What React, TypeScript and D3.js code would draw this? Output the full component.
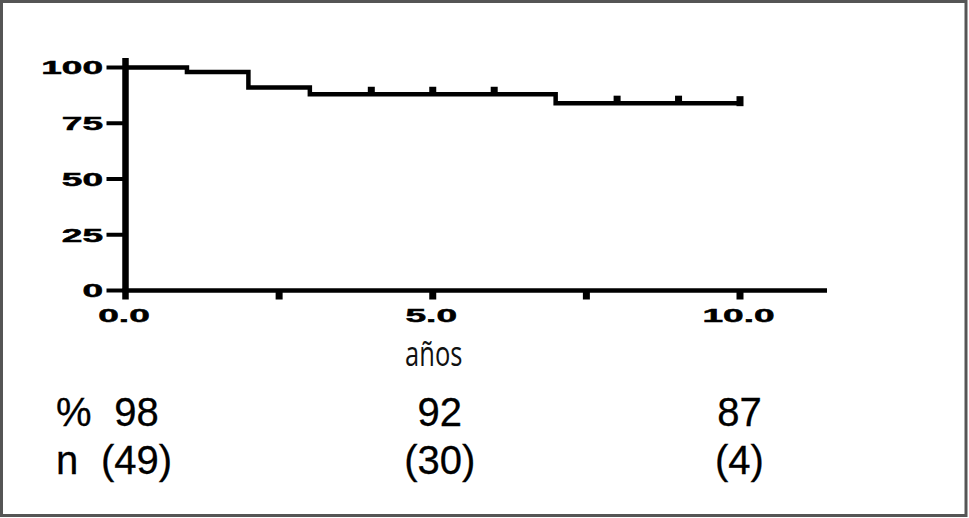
import React from "react";
import * as d3 from "d3";

// ---- data ----
const stepTimes = [0, 1, 2, 3, 7, 10];
const stepSurvival = [100, 98, 91, 88, 84, 84];
const censoredTimes = [4, 5, 6, 8, 9, 10];
const yTickValues = [0, 25, 50, 75, 100];
const yTickLabels = ["0", "25", "50", "75", "100"];
const xMajorTicks = [0, 5, 10];
const xMajorLabels = ["0.0", "5.0", "10.0"];
const xMinorTicks = [2.5, 7.5];
const xAxisTitle = "años";
const tablePercent = ["98", "92", "87"];
const tableN = ["(49)", "(30)", "(4)"];

const W = 969;
const H = 518;

export default function App() {
  const x = d3.scaleLinear().domain([0, 10]).range([125.5, 740]);
  const y = d3.scaleLinear().domain([0, 100]).range([290.5, 67.5]);

  const pts: [number, number][] = stepTimes.map((t, i) => [t, stepSurvival[i]]);
  const line = d3
    .line<[number, number]>()
    .x((d) => x(d[0]))
    .y((d) => y(d[1]))
    .curve(d3.curveStepAfter);

  const survAt = (t: number) => {
    let s = stepSurvival[0];
    for (let i = 0; i < stepTimes.length; i++) if (stepTimes[i] <= t) s = stepSurvival[i];
    return s;
  };

  const tableCols = [136.5, x(5) + 7, x(10) - 0.5];
  const axisFont = "'Liberation Sans', Arial, sans-serif";
  const lastT = stepTimes[stepTimes.length - 1];

  return (
    <svg
      width={W}
      height={H}
      viewBox={`0 0 ${W} ${H}`}
      style={{ position: "absolute", left: 0, top: 0, background: "#fff" }}
    >
      <rect x={0} y={0} width={W} height={H} fill="#fff" />
      <rect x={1.5} y={1.5} width={964.5} height={514} fill="none" stroke="#555" strokeWidth={3} />

      {/* y axis */}
      <line x1={x(0)} x2={x(0)} y1={58} y2={299.5} stroke="#000" strokeWidth={6.5} />
      {yTickValues.map((v, i) => (
        <g key={"yt" + v}>
          <line x1={106.5} x2={x(0)} y1={y(v)} y2={y(v)} stroke="#000" strokeWidth={4} />
          <text
            transform={`translate(103,${y(v) + 6.8}) scale(1.95,1)`}
            textAnchor="end"
            fontFamily={axisFont}
            fontWeight="bold"
            fontSize={19}
            stroke="#000"
            strokeWidth={0.5}
            fill="#000"
          >
            {yTickLabels[i]}
          </text>
        </g>
      ))}

      {/* x axis */}
      <line x1={x(0) - 3} x2={827} y1={y(0)} y2={y(0)} stroke="#000" strokeWidth={4.5} />
      {[...xMajorTicks.filter((t) => t > 0), ...xMinorTicks].map((t) => (
        <line key={"xt" + t} x1={x(t)} x2={x(t)} y1={y(0)} y2={299.5} stroke="#000" strokeWidth={7} />
      ))}
      {xMajorTicks.map((t, i) => (
        <text
          key={"xl" + t}
          transform={`translate(${x(t) - 1.5},321.5) scale(1.95,1)`}
          textAnchor="middle"
          fontFamily={axisFont}
          fontWeight="bold"
          fontSize={19}
          stroke="#000"
          strokeWidth={0.5}
          fill="#000"
        >
          {xMajorLabels[i]}
        </text>
      ))}

      {/* survival curve */}
      <path d={line(pts) || ""} fill="none" stroke="#000" strokeWidth={4.5} strokeLinejoin="miter" />
      {censoredTimes.map((t) =>
        t === lastT ? (
          <rect key={"c" + t} x={x(t) - 3.5} y={y(survAt(t)) - 7} width={7} height={10} fill="#000" />
        ) : (
          <rect key={"c" + t} x={x(t) - 3.5} y={y(survAt(t)) - 7.5} width={7} height={7.5} fill="#000" />
        )
      )}

      {/* axis title */}
      <text
        transform={`translate(${x(5) + 1},366) scale(0.75,1)`}
        textAnchor="middle"
        fontFamily="'Open Sans', sans-serif"
        fontSize={34}
        fill="#111"
      >
        {xAxisTitle}
      </text>

      {/* table */}
      <g fontFamily={axisFont} fontSize={40} fill="#000" stroke="#000" strokeWidth={0.3}>
        <text x={56} y={426}>%</text>
        <text x={56} y={474}>n</text>
        {tablePercent.map((s, i) => (
          <text key={"p" + i} x={tableCols[i]} y={426} textAnchor="middle">
            {s}
          </text>
        ))}
        {tableN.map((s, i) => (
          <text key={"n" + i} x={tableCols[i]} y={474} textAnchor="middle">
            {s}
          </text>
        ))}
      </g>
    </svg>
  );
}
